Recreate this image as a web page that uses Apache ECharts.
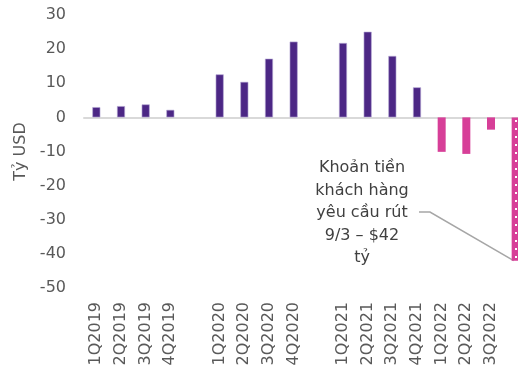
<!DOCTYPE html>
<html>
<head>
<meta charset="utf-8">
<script src="https://cdn.jsdelivr.net/npm/echarts@6/dist/echarts.min.js"></script>
<style>
  html, body { margin: 0; padding: 0; background: #fff; }
  #chart { width: 518px; height: 366px; }
</style>
</head>
<body>
<div id="chart"></div>
<script>
// Quarterly flows (billion USD); blank entries are spacer columns between years
const categories = ['1Q2019', '2Q2019', '3Q2019', '4Q2019', '',
                    '1Q2020', '2Q2020', '3Q2020', '4Q2020', '',
                    '1Q2021', '2Q2021', '3Q2021', '4Q2021',
                    '1Q2022', '2Q2022', '3Q2022', ''];
const inflows  = [3.0, 3.3, 3.8, 2.2, '-', 12.6, 10.4, 17.2, 22.2, '-', 21.8, 25.1, 18.0, 8.8, '-', '-', '-', '-'];
const outflows = ['-', '-', '-', '-', '-', '-', '-', '-', '-', '-', '-', '-', '-', '-', -10.1, -10.7, -3.6, '-'];
const withdrawal = ['-', '-', '-', '-', '-', '-', '-', '-', '-', '-', '-', '-', '-', '-', '-', '-', '-', -42];
const yTicks = { min: -50, max: 30, step: 10 };
const noteText = 'Khoản tiền\nkhách hàng\nyêu cầu rút\n9/3 – $42\ntỷ';

const PURPLE = '#4C2785';
const PINK = '#D73F98';
const FONT = 'DejaVu Sans';

const chart = echarts.init(document.getElementById('chart'), null, { renderer: 'canvas' });

const option = {
  animation: false,
  backgroundColor: '#ffffff',
  textStyle: { fontFamily: FONT },
  grid: {
    left: 84, right: -10, top: 15, bottom: 78,
    containLabel: false, outerBoundsMode: 'none'
  },
  xAxis: [
    {
      type: 'category',
      data: categories,
      position: 'bottom',
      axisLine: { show: false, onZero: false },
      axisTick: { show: false },
      axisLabel: {
        interval: 0, rotate: 90, margin: 14,
        fontFamily: FONT, fontSize: 16, color: '#595959'
      }
    },
    {
      type: 'category',
      data: categories,
      position: 'top',
      axisLine: { show: true, onZero: true, lineStyle: { color: '#D9D9D9', width: 2 } },
      axisTick: { show: false },
      axisLabel: { show: false }
    }
  ],
  yAxis: {
    type: 'value',
    min: yTicks.min, max: yTicks.max, interval: yTicks.step,
    name: 'Tỷ USD',
    nameLocation: 'middle',
    nameGap: 54,
    nameTextStyle: { fontFamily: FONT, fontSize: 16, color: '#595959' },
    axisLine: { show: false },
    axisTick: { show: false },
    splitLine: { show: false },
    axisLabel: { margin: 18, fontFamily: FONT, fontSize: 16, color: '#595959' }
  },
  series: [
    {
      name: 'inflows', type: 'bar', data: inflows, barWidth: 8, barGap: '-100%',
      itemStyle: { color: PURPLE, borderColor: '#B9ACD6', borderWidth: 0.6 }
    },
    {
      name: 'outflows', type: 'bar', data: outflows, barWidth: 8, barGap: '-100%',
      itemStyle: { color: PINK }
    },
    {
      name: 'withdrawal', type: 'bar', data: withdrawal, barWidth: 8, barGap: '-100%',
      itemStyle: {
        color: PINK,
        decal: {
          symbol: 'rect', symbolSize: 1, color: '#ffffff',
          dashArrayX: [0, 3, 2, 3], dashArrayY: [2, 6], rotation: 0
        }
      }
    }
  ]
};

chart.setOption(option);

// Callout text with a leader line ending at the tip of the withdrawal bar
const lastIdx = withdrawal.length - 1;
const tip = chart.convertToPixel({ xAxisIndex: 0, yAxisIndex: 0 }, [lastIdx, withdrawal[lastIdx]]);
chart.setOption({
  graphic: [
    {
      type: 'text', left: 362 - 50, top: 157,
      style: {
        text: noteText, x: 50, width: 100, textAlign: 'center',
        font: '16px "DejaVu Sans"', lineHeight: 22.5, fill: '#404040'
      }
    },
    {
      type: 'polyline',
      shape: { points: [[419, 212], [430, 212], [tip[0] - 2, tip[1]]] },
      style: { stroke: '#A6A6A6', lineWidth: 1.5, fill: null }
    }
  ]
});
</script>
</body>
</html>
